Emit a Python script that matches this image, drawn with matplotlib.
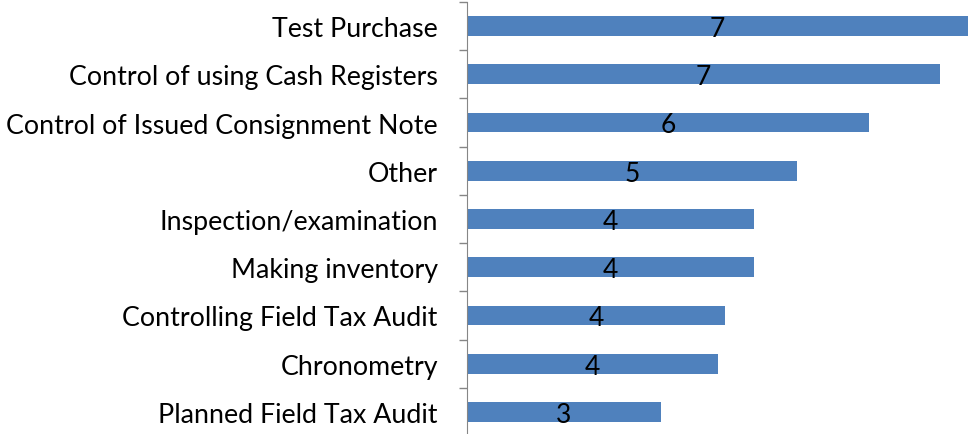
import matplotlib
matplotlib.use("Agg")
import matplotlib.pyplot as plt
import numpy as np

categories = ["Test Purchase", "Control of using Cash Registers",
              "Control of Issued Consignment Note", "Other",
              "Inspection/examination", "Making inventory",
              "Controlling Field Tax Audit", "Chronometry",
              "Planned Field Tax Audit"]
values = [7.17, 6.77, 5.76, 4.73, 4.11, 4.11, 3.69, 3.60, 2.77]

plt.rcParams['font.family'] = ['Lato', 'DejaVu Sans']

fig = plt.figure(figsize=(9.70, 4.35), dpi=100)
ax = fig.add_axes([467/970, -2/435, 503/970, 434/435])

y = np.arange(len(categories))
bars = ax.barh(y, values, height=0.41, color='#4F81BD')
ax.set_xlim(0, 7.2)
ax.set_ylim(len(categories) - 0.5, -0.5)

# labels in middle of each bar, rounded
for yi, v in zip(y, values):
    ax.text(v / 2, yi + 0.05, f"{round(v)}", ha='center', va='center',
            fontsize=19, color='black')

ax.set_yticks(y)
ax.set_yticklabels(categories, fontsize=19.3)
ax.set_yticks(np.arange(len(categories) + 1) - 0.5, minor=True)
ax.tick_params(axis='y', which='major', length=0, pad=21)
ax.tick_params(axis='y', which='minor', length=6, color='#868686', width=1)
ax.set_xticks([])
for s in ['top', 'right', 'bottom']:
    ax.spines[s].set_visible(False)
ax.spines['left'].set_color('#868686')

fig.savefig("out.png", dpi=100)
